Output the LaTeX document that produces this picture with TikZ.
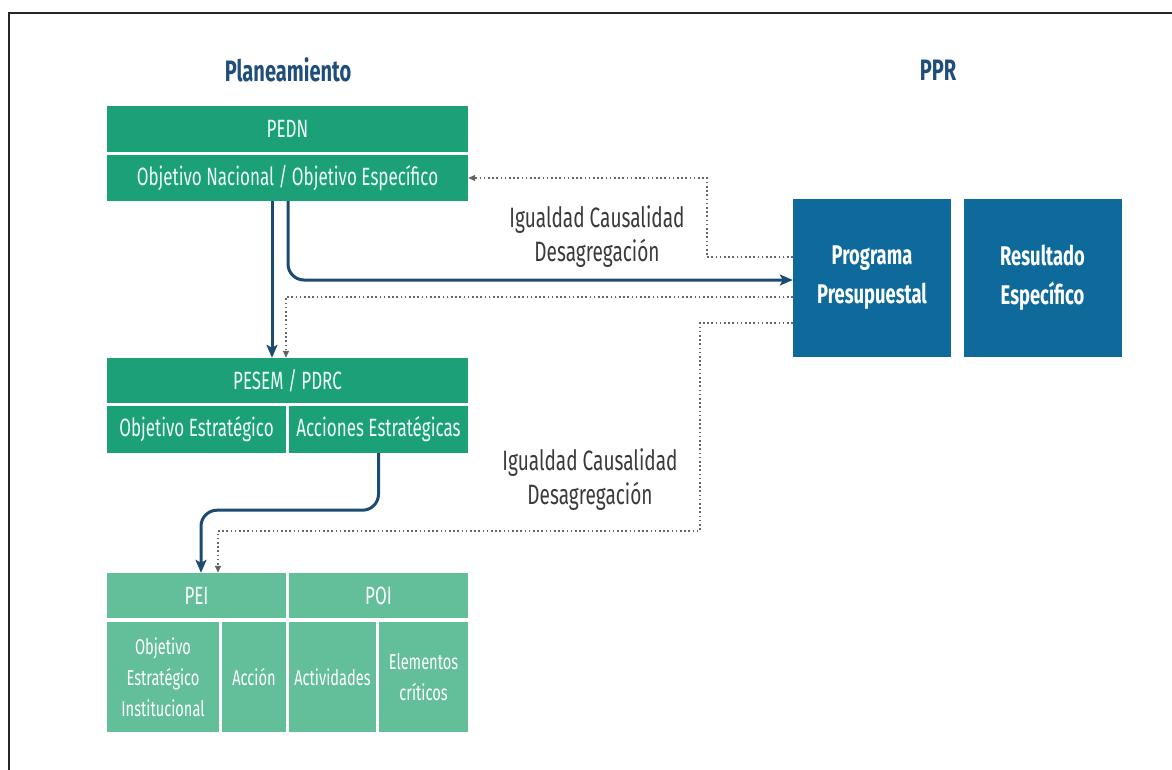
\documentclass[tikz,border=0pt]{standalone}
\usepackage{fontspec}
\setmainfont[FakeStretch=0.68]{Fira Sans}
\usetikzlibrary{arrows.meta,calc}
\definecolor{grA}{HTML}{1BA078}
\definecolor{grB}{HTML}{63BF9A}
\definecolor{boxBlue}{HTML}{0E6A9B}
\definecolor{navy}{HTML}{1B4B70}
\definecolor{titleBlue}{HTML}{1F4E7A}
\definecolor{dotc}{HTML}{666666}
\definecolor{labelc}{HTML}{3A3A3A}
\definecolor{paleText}{HTML}{EFFFF8}
\begin{document}
\begin{tikzpicture}[x=1pt,y=-1pt,
  cell/.style={inner sep=0pt, align=center, text=paleText},
  cellA/.style={cell, fill=grA, font=\fontsize{25}{27}\selectfont},
  cellB/.style={cell, fill=grB, text=white, font=\fontsize{25}{27}\selectfont},
  cellBs/.style={cell, fill=grB, text=white, font=\fontsize{21.5}{31}\selectfont},
  ppr/.style={inner sep=0pt, align=center, fill=boxBlue, text=white,
    font=\fontsize{27}{39}\selectfont\bfseries, minimum width=158pt, minimum height=158pt},
  title/.style={text=titleBlue, font=\fontsize{29.5}{31}\selectfont\bfseries},
  label/.style={text=labelc, align=center, font=\fontsize{28}{34}\selectfont},
  flow/.style={draw=navy, line width=3pt, rounded corners=16pt,
    -{Stealth[length=13pt,width=11pt,inset=3pt]}},
  link/.style={draw=dotc, line width=1.6pt, dash pattern=on 1.6pt off 2.6pt,
    -{Triangle[length=7pt,width=6pt,fill=black!80]}}
]
\useasboundingbox (0,0) rectangle (1172,769);
% frame
\draw[line width=2pt, black!85] (8.5,790) -- (8.5,12.5) -- (1190,12.5);

% headings
\node[title] (tplan) at (288,70) {Planeamiento};
\node[title] (tppr) at (938,70) {PPR};

% PEDN block
\node[cellA, minimum width=361pt, minimum height=46pt] (pedn) at (287.5,129) {PEDN};
\node[cellA, minimum width=361pt, minimum height=46pt] (objn) at (287.5,178) {Objetivo Nacional / Objetivo Específico};

% PESEM / PDRC block
\node[cellA, minimum width=361pt, minimum height=45pt] (pesem) at (287.5,380.5) {PESEM / PDRC};
\node[cellA, minimum width=179pt, minimum height=47pt] (oest) at (196.5,429.5) {Objetivo Estratégico};
\node[cellA, minimum width=179pt, minimum height=47pt] (acc) at (378.5,429.5) {Acciones Estratégicas};

% PEI / POI block
\node[cellB, minimum width=179pt, minimum height=45pt] (pei) at (196.5,595.5) {PEI};
\node[cellB, minimum width=179pt, minimum height=45pt] (poi) at (378.5,595.5) {POI};
\node[cellBs, minimum width=112pt, minimum height=110pt] (oei) at (163,677) {Objetivo\\Estratégico\\Institucional};
\node[cellBs, minimum width=64pt, minimum height=110pt] (accion) at (254,677) {Acción};
\node[cellBs, minimum width=87pt, minimum height=110pt] (activ) at (332.5,677) {Actividades};
\node[cellBs, minimum width=89pt, minimum height=110pt] (elem) at (423.5,677) {Elementos\\críticos};

% PPR boxes
\node[ppr] (prog) at (872,278) {Programa\\Presupuestal};
\node[ppr] (res) at (1042.5,278) {Resultado\\Específico};

% labels
\node[label] (lab1) at (597,237) {Igualdad Causalidad\\Desagregación};
\node[label] (lab2) at (590,480) {Igualdad Causalidad\\Desagregación};

% solid flows
\draw[flow] ([xshift=-15.5pt]objn.south) -- ([xshift=-15.5pt]pesem.north);
\draw[flow] ([xshift=0.5pt]objn.south) |- ([yshift=-2pt]prog.west);
\draw[flow] (acc.south) -- ++(0,57) -| ([xshift=4.5pt]pei.north);

% dotted links
\draw[link] ([yshift=21pt]prog.west) -- ++(-86,0) |- (objn.east);
\draw[link] ([yshift=-19pt]prog.west) -| ([xshift=-1.5pt]pesem.north);
\draw[link] ([yshift=-45pt]prog.west) -- ++(-93,0) -- ++(0,208) -| ([xshift=21.5pt]pei.north);
\end{tikzpicture}
\end{document}
